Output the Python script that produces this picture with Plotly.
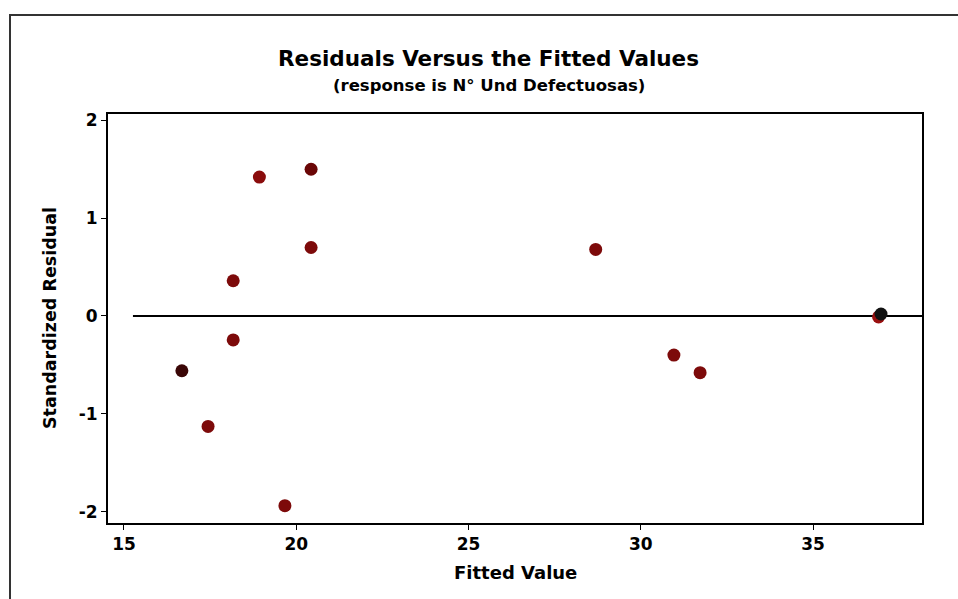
import plotly.graph_objects as go

# Data
fitted = [16.68, 17.44, 18.17, 18.17, 18.93, 19.67, 20.43, 20.43, 28.69, 30.96, 31.72, 36.90]
std_resid = [-0.56, -1.13, 0.36, -0.245, 1.42, -1.94, 1.50, 0.70, 0.68, -0.40, -0.58, -0.01]
point_colors = ["#3a0606", "#7d0a0a", "#7d0a0a", "#7d0a0a", "#8a0c0c", "#7d0a0a",
                "#6a0606", "#7d0a0a", "#7d0a0a", "#7d0a0a", "#7d0a0a", "#9a1010"]
# overlapping black point at the far right
extra_x = [36.97]
extra_y = [0.02]

x_ticks = [15, 20, 25, 30, 35]
x_tick_labels = ["15", "20", "25", "30", "35"]
y_ticks = [-2, -1, 0, 1, 2]
y_tick_labels = ["-2", "-1", "0", "1", "2"]
ref_line_x = [15.26, 38.16]
ref_line_y = [0, 0]

FONT = "DejaVu Sans"

fig = go.Figure()
fig.add_trace(go.Scatter(x=ref_line_x, y=ref_line_y, mode="lines",
                         line=dict(color="black", width=2), hoverinfo="skip",
                         showlegend=False))
fig.add_trace(go.Scatter(x=fitted, y=std_resid, mode="markers",
                         marker=dict(size=13, color=point_colors, line=dict(width=0)),
                         showlegend=False))
fig.add_trace(go.Scatter(x=extra_x, y=extra_y, mode="markers",
                         marker=dict(size=13, color="#111111", line=dict(width=0)),
                         showlegend=False))

fig.update_layout(
    width=958, height=599,
    margin=dict(l=108, r=36, t=114, b=76),
    paper_bgcolor="white", plot_bgcolor="white",
    font=dict(family=FONT, color="black"),
    xaxis=dict(range=[14.536, 38.16], tickvals=x_ticks, ticktext=x_tick_labels,
               ticks="outside", ticklen=5,
               tickwidth=1, tickcolor="black", showline=True, linecolor="black",
               linewidth=2, mirror=True, showgrid=False, zeroline=False,
               tickfont=dict(family=FONT, size=17, color="black", weight="bold")),
    yaxis=dict(range=[-2.117, 2.065], tickvals=y_ticks, ticktext=y_tick_labels,
               ticks="outside", ticklen=5,
               tickwidth=1, tickcolor="black", showline=True, linecolor="black",
               linewidth=2, mirror=True, showgrid=False, zeroline=False,
               tickfont=dict(family=FONT, size=17, color="black", weight="bold")),
    shapes=[dict(type="rect", xref="paper", yref="paper",
                 x0=(10 - 108) / 814, x1=(975 - 108) / 814,
                 y0=(523 - 615) / 409, y1=(523 - 15) / 409,
                 line=dict(color="#333333", width=2), layer="below")],
    annotations=[
        dict(text="<b>Residuals Versus the Fitted Values</b>", xref="paper", yref="paper",
             x=(488 - 108) / 814, y=(523 - 58) / 409, xanchor="center", yanchor="middle",
             showarrow=False, font=dict(family=FONT, size=21.5, color="black")),
        dict(text="<b>(response is N° Und Defectuosas)</b>", xref="paper", yref="paper",
             x=(489 - 108) / 814, y=(523 - 86) / 409, xanchor="center", yanchor="middle",
             showarrow=False, font=dict(family=FONT, size=16.5, color="black")),
        dict(text="<b>Fitted Value</b>", xref="paper", yref="paper",
             x=0.5, y=(523 - 572) / 409, xanchor="center", yanchor="middle",
             showarrow=False, font=dict(family=FONT, size=18, color="black")),
        dict(text="<b>Standardized Residual</b>", xref="paper", yref="paper",
             x=(50 - 108) / 814, y=(523 - 318) / 409, xanchor="center", yanchor="middle",
             textangle=-90, showarrow=False, font=dict(family=FONT, size=17.5, color="black")),
    ],
)

fig.write_html("out.html")
